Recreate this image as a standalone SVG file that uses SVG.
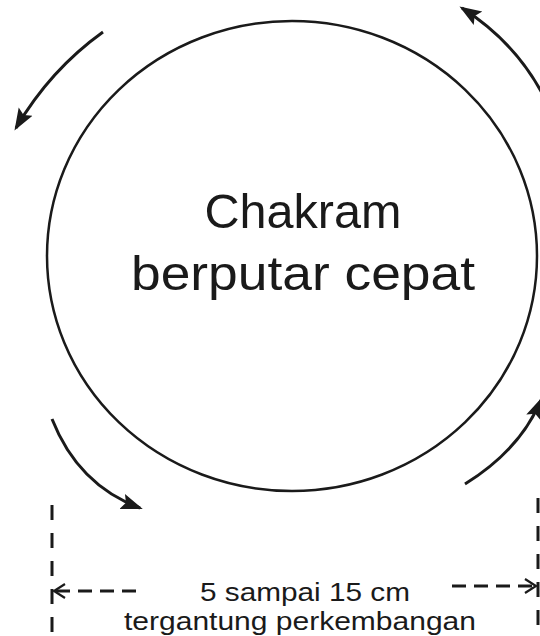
<svg xmlns="http://www.w3.org/2000/svg" width="540" height="636" viewBox="0 0 540 636">
  <style>
    .lbl { font-family: "Liberation Sans", Arial, sans-serif; fill: #1a1a1a; text-anchor: middle; }
    .big { font-size: 48px; }
    .small { font-size: 26px; }
    .rot { fill: none; stroke: #1a1a1a; stroke-width: 3; }
    .dash { fill: none; stroke: #1a1a1a; stroke-width: 3; stroke-dasharray: 14 8; }
    .vdash { fill: none; stroke: #1a1a1a; stroke-width: 3; stroke-dasharray: 15 13; }
  </style>
  <defs>
    <marker id="solidHead" markerUnits="userSpaceOnUse" markerWidth="24" markerHeight="18" refX="19" refY="8" orient="auto" viewBox="0 0 24 16">
      <path d="M0,0 L22,8 L0,16 L4,8 z" fill="#1a1a1a"/>
    </marker>
    <marker id="openHead" markerUnits="userSpaceOnUse" markerWidth="16" markerHeight="18" refX="13" refY="8" orient="auto" viewBox="0 0 16 16">
      <path d="M2,1 L13,8 L2,15" fill="none" stroke="#1a1a1a" stroke-width="2.2"/>
    </marker>
  </defs>
  <rect width="540" height="636" fill="#ffffff"/>

  <g id="chakram">
    <ellipse cx="292" cy="256" rx="245" ry="235" fill="none" stroke="#1a1a1a" stroke-width="2.5"/>
    <text class="lbl big" x="303" y="228" textLength="197" lengthAdjust="spacingAndGlyphs">Chakram</text>
    <text class="lbl big" x="303" y="290" textLength="344" lengthAdjust="spacingAndGlyphs">berputar cepat</text>
  </g>

  <g id="dimension-label">
    <text class="lbl small" x="305" y="601" textLength="210" lengthAdjust="spacingAndGlyphs">5 sampai 15 cm</text>
    <text class="lbl small" x="300" y="630" textLength="352" lengthAdjust="spacingAndGlyphs">tergantung perkembangan</text>
  </g>

  <g id="connectors">
    <path class="rot" d="M103,32 Q50,70 16,128" marker-end="url(#solidHead)"/>
    <path class="rot" d="M548,105 Q520,45 462,8" marker-end="url(#solidHead)"/>
    <path class="rot" d="M52,419 Q78,485 140,508" marker-end="url(#solidHead)"/>
    <path class="rot" d="M465,484 Q520,450 541,400" marker-end="url(#solidHead)"/>
    <line class="vdash" x1="52" y1="505" x2="52" y2="640"/>
    <line class="vdash" x1="538" y1="498" x2="538" y2="640"/>
    <line class="dash" x1="136" y1="591" x2="54" y2="591" marker-end="url(#openHead)"/>
    <line class="dash" x1="452" y1="586" x2="536" y2="586" marker-end="url(#openHead)"/>
  </g>
</svg>
